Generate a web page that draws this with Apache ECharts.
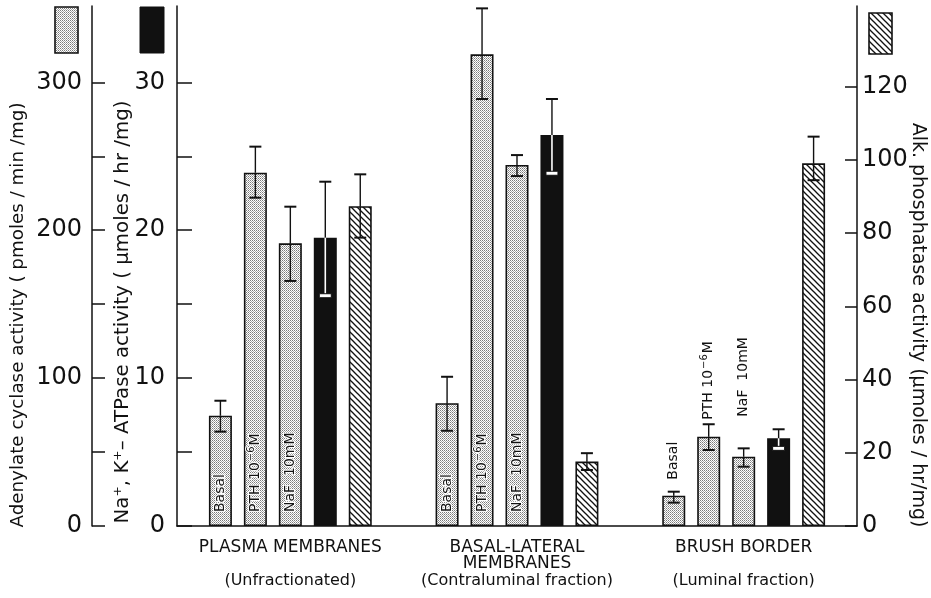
<!DOCTYPE html>
<html><head><meta charset="utf-8">
<script src="https://cdn.jsdelivr.net/npm/echarts@6/dist/echarts.min.js"></script>
<style>html,body{margin:0;padding:0;background:#fff}#c{width:931px;height:598px}</style>
</head><body><div id="c"></div>
<script>
// ---------- data ----------
const groupTitles = ['PLASMA MEMBRANES', 'BASAL-LATERAL\nMEMBRANES', 'BRUSH BORDER'];
const groupSubtitles = ['(Unfractionated)', '(Contraluminal fraction)', '(Luminal fraction)'];
const treatmentNames = ['Basal', 'PTH 10⁻⁶M', 'NaF 10mM'];

// Adenylate cyclase (pmoles/min/mg)
const basalMean = [74.6, 83.0, 20.5];
const basalLo   = [63.8, 64.4, 15.8];
const basalHi   = [84.7, 100.9, 23.2];
const pthMean   = [238.9, 318.9, 60.4];
const pthLo     = [222.0, 288.7, 51.4];
const pthHi     = [256.5, 350.0, 68.8];
const nafMean   = [191.1, 244.1, 46.9];
const nafLo     = [165.7, 236.6, 40.1];
const nafHi     = [215.9, 250.8, 52.5];
// Na+,K+-ATPase (umoles/hr/mg)
const atpMean   = [19.49, 26.44, 5.93];
const atpLo     = [15.57, 23.85, 5.25];
const atpHi     = [23.28, 28.87, 6.54];
// Alkaline phosphatase (umoles/hr/mg)
const alkMean   = [87.4, 17.6, 99.1];
const alkLo     = [78.8, 15.3, 94.5];
const alkHi     = [96.1, 19.9, 106.4];

const cyclaseTicks  = [0, 50, 100, 150, 200, 250, 300];
const cyclaseLabels = [0, 100, 200, 300];
const atpTicks      = [0, 5, 10, 15, 20, 25, 30];
const atpLabels     = [0, 10, 20, 30];
const alkTicks      = [0, 20, 40, 60, 80, 100, 120];

// ---------- styles ----------
const FONT = 'DejaVu Sans';
const INK = '#111';
const BAR_W = 23, BAR_GAP = 0.52;

function makeDots() {
  const c = document.createElement('canvas'); c.width = 2; c.height = 2;
  const g = c.getContext('2d');
  g.fillStyle = '#fff'; g.fillRect(0, 0, 2, 2);
  g.fillStyle = '#7a7a7a'; g.fillRect(0, 0, 1, 1);
  g.fillStyle = '#a8a8a8'; g.fillRect(1, 1, 1, 1);
  return c;
}
function makeHatch() {
  const s = 6;
  const c = document.createElement('canvas'); c.width = s; c.height = s;
  const g = c.getContext('2d');
  g.fillStyle = '#fff'; g.fillRect(0, 0, s, s);
  g.strokeStyle = '#111'; g.lineWidth = 1.3;
  [-s, 0, s].forEach(k => { g.beginPath(); g.moveTo(k - 1, -1); g.lineTo(k + s + 1, s + 1); g.stroke(); });
  return c;
}
const dotFill = { image: makeDots(), repeat: 'repeat' };
const hatchFill = { image: makeHatch(), repeat: 'repeat' };

// rich-text forms of the treatment labels (superscript exponent)
const treatmentRich = ['{n|Basal}', '{n|PTH 10}{s|−6}{n|M}', '{n|NaF  10mM}'];
const labelRich = {
  n: { fontFamily: FONT, fontSize: 14, color: INK, textBorderColor: '#fff', textBorderWidth: 2 },
  s: { fontFamily: FONT, fontSize: 10, color: INK, verticalAlign: 'bottom', padding: [0, 1, 8, 1], textBorderColor: '#fff', textBorderWidth: 2 }
};
// label distances above bars for brush border (style only)
const bbLabelDist = [16, 17, 40];

function barData(means, slot) {
  return means.map((v, i) => {
    const item = { value: v };
    if (i === 2) item.label = { position: 'top', distance: bbLabelDist[slot] };
    return item;
  });
}

function barSeries(name, means, axis, fill, slot, withLabel) {
  return {
    type: 'bar', name, yAxisIndex: axis, barWidth: BAR_W, barGap: (BAR_GAP * 100) + '%',
    itemStyle: { color: fill, borderColor: INK, borderWidth: 1.6 },
    label: withLabel ? {
      show: true, position: 'insideBottom', rotate: 90, align: 'left', verticalAlign: 'middle',
      distance: 14, formatter: treatmentRich[slot], rich: labelRich
    } : { show: false },
    data: withLabel ? barData(means, slot) : means,
    z: 2
  };
}

function errSeries(means, lo, hi, axis, slot, dark) {
  return {
    type: 'custom', yAxisIndex: axis, z: 5, silent: true,
    data: means.map((m, i) => [i, lo[i], hi[i], m]),
    renderItem: function (params, api) {
      const cat = api.value(0);
      const step = BAR_W * (1 + BAR_GAP);
      const x = api.coord([cat, 0])[0] + (slot - 2) * step;
      const yHi = api.coord([cat, api.value(2)])[1];
      const yLo = api.coord([cat, api.value(1)])[1];
      const yM = api.coord([cat, api.value(3)])[1];
      const cw = 6;
      const ch = [];
      ch.push({ type: 'line', shape: { x1: x, y1: yHi, x2: x, y2: Math.min(yM, yLo) }, style: { stroke: INK, lineWidth: 1.4 } });
      ch.push({ type: 'line', shape: { x1: x - cw, y1: yHi, x2: x + cw, y2: yHi }, style: { stroke: INK, lineWidth: 2 } });
      if (dark) {
        ch.push({ type: 'line', shape: { x1: x, y1: yM, x2: x, y2: yLo }, style: { stroke: '#fff', lineWidth: 1.6 } });
        ch.push({ type: 'rect', shape: { x: x - cw, y: yLo - 2, width: cw * 2, height: 4 }, style: { fill: '#fff', stroke: INK, lineWidth: 1 } });
      } else {
        ch.push({ type: 'line', shape: { x1: x, y1: yM, x2: x, y2: yLo }, style: { stroke: INK, lineWidth: 1.4 } });
        ch.push({ type: 'line', shape: { x1: x - cw, y1: yLo, x2: x + cw, y2: yLo }, style: { stroke: INK, lineWidth: 2 } });
      }
      return { type: 'group', children: ch };
    }
  };
}

function catLabel(title, sub) {
  const lines = title.split('\n').map(t => '{a|' + t + '}');
  while (lines.length < 2) lines.push('{a| }');
  return lines.join('\n') + '\n{b|' + sub + '}';
}
const catData = groupTitles.map((t, i) => catLabel(t, groupSubtitles[i]));

function valueAxis(opts) {
  return Object.assign({
    type: 'value', min: 0, splitLine: { show: false },
    axisLine: { show: true, lineStyle: { color: INK, width: 1.5 } }
  }, opts);
}
const tickLabelStyle = { fontFamily: FONT, fontSize: 24, fontWeight: 'normal', color: INK };

const chart = echarts.init(document.getElementById('c'), null, { renderer: 'canvas' });
chart.setOption({
  backgroundColor: '#fff',
  animation: false,
  grid: { left: 177, right: 74, top: 6, bottom: 72, containLabel: false },
  xAxis: {
    type: 'category', data: catData,
    axisLine: { show: true, lineStyle: { color: INK, width: 1.5 } },
    axisTick: { show: false },
    axisLabel: {
      margin: 13, interval: 0, color: INK, fontFamily: FONT,
      rich: {
        a: { fontFamily: FONT, fontSize: 17, lineHeight: 16.5, color: INK },
        b: { fontFamily: FONT, fontSize: 16, lineHeight: 18, color: INK }
      }
    }
  },
  yAxis: [
    valueAxis({ position: 'left', offset: 85, max: 351.6, interval: 50,
      axisTick: { show: true, inside: true, length: 13, customValues: cyclaseTicks, lineStyle: { color: INK, width: 1.5 } },
      axisLabel: Object.assign({ customValues: cyclaseLabels, margin: 10 }, tickLabelStyle) }),
    valueAxis({ position: 'left', offset: 0, max: 35.16, interval: 5,
      axisTick: { show: true, inside: true, length: 15, customValues: atpTicks, lineStyle: { color: INK, width: 1.5 } },
      axisLabel: Object.assign({ customValues: atpLabels, margin: 12 }, tickLabelStyle) }),
    valueAxis({ position: 'right', offset: 0, max: 142.1, interval: 20,
      axisTick: { show: true, inside: true, length: 12, customValues: alkTicks, lineStyle: { color: INK, width: 1.5 } },
      axisLabel: Object.assign({ customValues: alkTicks, margin: 5 }, tickLabelStyle) })
  ],
  graphic: [
    { type: 'rect', shape: { x: 55, y: 7, width: 23, height: 46 }, style: { fill: dotFill, stroke: INK, lineWidth: 1.6 } },
    { type: 'rect', shape: { x: 140, y: 7, width: 24, height: 46 }, style: { fill: INK, stroke: INK, lineWidth: 1 } },
    { type: 'rect', shape: { x: 869, y: 13, width: 23, height: 41 }, style: { fill: hatchFill, stroke: INK, lineWidth: 1.6 } },
    { type: 'text', x: 18, y: 315, rotation: Math.PI / 2,
      style: { text: 'Adenylate cyclase activity ( pmoles / min /mg)', fontFamily: FONT, fontSize: 18.3, fill: INK, align: 'center', verticalAlign: 'middle' } },
    { type: 'text', x: 123, y: 312, rotation: Math.PI / 2,
      style: { text: 'Na⁺, K⁺– ATPase activity ( µmoles / hr /mg)', fontFamily: FONT, fontSize: 19.8, fill: INK, align: 'center', verticalAlign: 'middle' } },
    { type: 'text', x: 918, y: 325, rotation: -Math.PI / 2,
      style: { text: 'Alk. phosphatase activity (µmoles / hr/mg)', fontFamily: FONT, fontSize: 19, fill: INK, align: 'center', verticalAlign: 'middle' } }
  ],
  series: [
    barSeries(treatmentNames[0], basalMean, 0, dotFill, 0, true),
    barSeries(treatmentNames[1], pthMean, 0, dotFill, 1, true),
    barSeries(treatmentNames[2], nafMean, 0, dotFill, 2, true),
    barSeries('Na⁺,K⁺-ATPase', atpMean, 1, INK, 3, false),
    barSeries('Alk. phosphatase', alkMean, 2, hatchFill, 4, false),
    errSeries(basalMean, basalLo, basalHi, 0, 0, false),
    errSeries(pthMean, pthLo, pthHi, 0, 1, false),
    errSeries(nafMean, nafLo, nafHi, 0, 2, false),
    errSeries(atpMean, atpLo, atpHi, 1, 3, true),
    errSeries(alkMean, alkLo, alkHi, 2, 4, false)
  ]
});
</script></body></html>
